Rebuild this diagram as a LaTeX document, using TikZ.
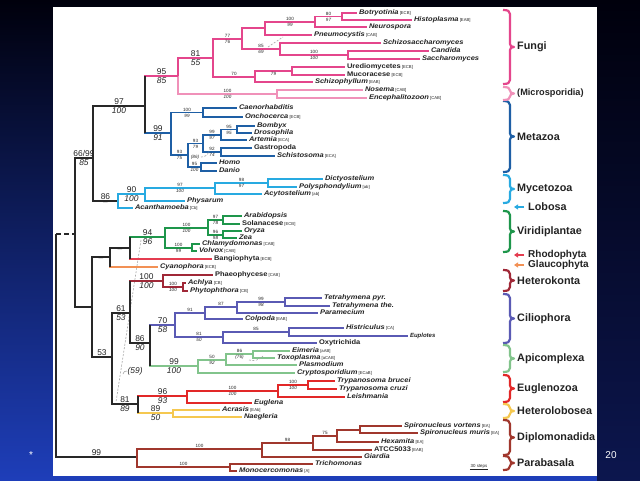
\documentclass[tikz,border=0pt]{standalone}
\usepackage{fontspec}
\setmainfont{Liberation Sans}
\newfontfamily\leaffont[FakeStretch=1.12]{Liberation Sans}
\usetikzlibrary{arrows.meta}
\definecolor{bgtop}{RGB}{0,0,12}
\definecolor{bgmid}{RGB}{8,22,90}
\definecolor{bgbot}{RGB}{30,62,185}
\definecolor{bgrt}{RGB}{12,22,78}
\definecolor{txt}{RGB}{35,35,35}
\definecolor{cBlk}{RGB}{40,40,40}
\definecolor{cFun}{RGB}{228,70,140}
\definecolor{cMic}{RGB}{240,145,185}
\definecolor{cMet}{RGB}{30,95,165}
\definecolor{cMyc}{RGB}{40,170,225}
\definecolor{cVir}{RGB}{30,150,75}
\definecolor{cRho}{RGB}{228,60,80}
\definecolor{cGla}{RGB}{242,145,85}
\definecolor{cHet}{RGB}{160,40,55}
\definecolor{cCil}{RGB}{90,90,180}
\definecolor{cApi}{RGB}{130,196,140}
\definecolor{cEug}{RGB}{226,40,40}
\definecolor{cHlb}{RGB}{245,200,80}
\definecolor{cDip}{RGB}{160,55,45}
\tikzset{
    br/.style={line width=1.4pt},
    leaf/.style={anchor=west, inner sep=1.8pt, text height=4.9pt, text depth=1.3pt, text=txt, font=\leaffont\fontsize{6.7}{7}\selectfont\bfseries\itshape},
    leafup/.style={leaf, font=\leaffont\fontsize{6.7}{7}\selectfont\bfseries},
    st/.style={pos=.75, above, inner sep=.7pt, text=txt, font=\fontsize{4.6}{5}\selectfont},
    sb/.style={st, below, font=\fontsize{4.6}{5}\selectfont\itshape},
    bt/.style={pos=.75, above, inner sep=.8pt, text=txt, font=\fontsize{8.4}{9}\selectfont},
    bb/.style={bt, below, font=\fontsize{8.4}{9}\selectfont\itshape},
    grp/.style={anchor=west, inner sep=0pt, text=txt, font=\fontsize{10.8}{11}\selectfont\bfseries},
    bkt/.style={line width=2.2pt, line join=round},
    arw/.style={line width=1.3pt, -{Triangle[length=4pt,width=5pt]}, shorten <=4pt},
    alt/.style={gray!70, line width=.6pt, dash pattern=on 2pt off 1.5pt}
}
\newcommand{\lbcode}[1]{{\normalfont\fontsize{4.2}{5}\selectfont\ [#1]}}

\begin{document}
\begin{tikzpicture}[x=1pt, y=-1pt]
    \useasboundingbox (0,0) rectangle (640,480);
    % slide
    \shade[top color=bgtop, middle color=bgmid, bottom color=bgbot] (0,0) rectangle (640,480);
    \shade[top color=bgtop, bottom color=bgrt] (597,0) rectangle (640,480);
    \fill[white] (53,7) rectangle (597,476);
    \node[text=white, font=\fontsize{10}{11}\selectfont] (star) at (31,455) {*};
    \node[text=white, font=\fontsize{10}{11}\selectfont] (pg) at (611,455) {20};

    % alternative grouping
    \coordinate (g59a) at (141,240); \coordinate (g59b) at (116,402);
    \draw[alt] (g59a) -- (g59b);
    \node[font=\fontsize{8.4}{9}\selectfont\itshape, text=txt, inner sep=.5pt, anchor=west] (l59) at (127,371) {(59)};
    \coordinate (h59) at (123,374);
    \draw[alt, solid] (h59) to[bend left=50] (l59.west);

    % backbone
    \coordinate (root) at (56,345);
    \coordinate (n75) at (75,234);
    \coordinate (n93) at (93,158);
    \coordinate (nB) at (145,106);
    \coordinate (n118) at (118,201);
    \coordinate (n92) at (92,307);
    \coordinate (n110) at (110,257);
    \coordinate (n130) at (130,248);
    \coordinate (n112) at (112,357);
    \coordinate (n130b) at (130,313);
    \coordinate (n150) at (150,343);
    \coordinate (n138) at (138,404);
    \coordinate (n137) at (137,457);

    \draw[br,cBlk] (root) -- (root |- n75);
    \draw[br,cBlk,dash pattern=on 5pt off 3pt] (root |- n75) -- (n75);
    \draw[br,cBlk] (root) |- node[bt]{99} (n137);
    \draw[br,cBlk] (n75) |- node[bt]{66/99} node[bb]{85} (n93);
    \draw[br,cBlk] (n75) |- (n92);
    \draw[br,cBlk] (n93) |- node[bt]{97} node[bb]{100} (nB);
    \draw[br,cBlk] (n93) |- node[bt]{86} node[bb]{--} (n118);
    \draw[br,cBlk] (n92) |- node[bb]{--} (n110);
    \draw[br,cBlk] (n92) |- node[bt]{53} (n112);
    \draw[br,cBlk] (n110) |- node[bb]{--} (n130);
    \draw[br,cBlk] (n112) |- node[bt]{61} node[bb]{53} (n130b);
    \draw[br,cBlk] (n112) |- node[bt]{81} node[bb]{89} (n138);
    \draw[br,cBlk] (n130b) |- node[bt]{86} node[bb]{90} (n150);

    % Fungi
    \coordinate (f178) at (178,76);
    \coordinate (f213) at (213,58);
    \coordinate (f242) at (242,39);
    \coordinate (f265) at (265,28);
    \coordinate (f315) at (315,22);
    \coordinate (f342) at (342,16.5);
    \coordinate (f280) at (280,49);
    \coordinate (f348) at (348,55);
    \coordinate (f255) at (255,77);
    \coordinate (f292) at (292,71);
    \coordinate (f277) at (277,94);
    \node[leaf] (botr) at (357,13) {Botryotinia\lbcode{ECB}};
    \node[leaf] (hist) at (412,20) {Histoplasma\lbcode{EAB}};
    \node[leaf] (neur) at (367,27) {Neurospora};
    \node[leaf] (pneu) at (312,35) {Pneumocystis\lbcode{CAB}};
    \node[leaf] (schs) at (381,43) {Schizosaccharomyces};
    \node[leaf] (cand) at (429,51) {Candida};
    \node[leaf] (sacc) at (420,59) {Saccharomyces};
    \node[leafup] (ured) at (345,67) {Urediomycetes\lbcode{ECB}};
    \node[leafup] (muco) at (345,75) {Mucoracese\lbcode{ECB}};
    \node[leaf] (schp) at (313,82) {Schizophyllum\lbcode{EAB}};
    \node[leaf] (nose) at (363,90) {Nosema\lbcode{CAB}};
    \node[leaf] (ence) at (367,98) {Encephalitozoon\lbcode{CAB}};

    \draw[br,cMic] (f178) |- node[st]{100} node[sb]{100} (f277);
    \draw[br,cMic] (f277) |- (nose);
    \draw[br,cMic] (f277) |- (ence);
    \draw[br,cFun] (nB) |- node[bt]{95} node[bb]{85} (f178);
    \draw[br,cFun] (f178) |- node[bt]{81} node[bb]{55} (f213);
    \draw[br,cFun] (f213) |- node[st]{77} node[sb]{76} (f242);
    \draw[br,cFun] (f213) |- node[st]{70} (f255);
    \draw[br,cFun] (f242) |- node[st]{85} node[sb]{69} (f280);
    \draw[br,cFun] (f265) |- node[st]{100} node[sb]{99} (f315);
    \draw[br,cFun] (f315) |- node[st]{80} node[sb]{97} (f342);
    \draw[br,cFun] (f280) |- node[st]{100} node[sb]{100} (f348);
    \draw[br,cFun] (f255) |- node[sb]{79} (f292);
    \foreach \a/\b in {f242/f265, f265/pneu, f315/neur, f342/botr, f342/hist, f280/schs,
                       f348/cand, f348/sacc, f255/schp, f292/ured, f292/muco}
        \draw[br,cFun] (\a) |- (\b);
    \coordinate (fa1) at (268,47); \coordinate (fa2) at (283,37);
    \draw[alt] (fa1) -- (fa2);

    % Metazoa
    \coordinate (m171) at (171,133);
    \coordinate (m203a) at (203,112.5);
    \coordinate (m188) at (188,155);
    \coordinate (m203) at (203,143.5);
    \coordinate (m221a) at (221,135);
    \coordinate (m237) at (237,129.5);
    \coordinate (m221b) at (221,152);
    \coordinate (m202) at (201,167);
    \node[leaf] (caen) at (237,108) {Caenorhabditis};
    \node[leaf] (onch) at (243,117) {Onchocerca\lbcode{ECB}};
    \node[leaf] (bomb) at (255,126) {Bombyx};
    \node[leaf] (dros) at (252,133) {Drosophila};
    \node[leaf] (arte) at (247,140) {Artemia\lbcode{ECA}};
    \node[leafup] (gast) at (252,148) {Gastropoda};
    \node[leaf] (schi) at (275,156) {Schistosoma\lbcode{ECA}};
    \node[leaf] (homo) at (217,163) {Homo};
    \node[leaf] (dani) at (217,171) {Danio};

    \draw[br,cMet] (nB) |- node[bt]{99} node[bb]{91} (m171);
    \draw[br,cMet] (m171) |- node[st]{100} node[sb]{99} (m203a);
    \draw[br,cMet] (m171) |- node[st]{93} node[sb]{75} (m188);
    \draw[br,cMet] (m188) |- node[st]{93} node[sb]{79} (m203);
    \draw[br,cMet] (m188) |- node[st]{95} node[sb]{100} (m202);
    \draw[br,cMet] (m203) |- node[st]{99} node[sb]{97} (m221a);
    \draw[br,cMet] (m203) |- node[st]{92} node[sb]{74} (m221b);
    \draw[br,cMet] (m221a) |- node[st]{95} node[sb]{95} (m237);
    \foreach \a/\b in {m203a/caen, m203a/onch, m221a/arte, m237/bomb, m237/dros,
                       m221b/gast, m221b/schi, m202/homo, m202/dani}
        \draw[br,cMet] (\a) |- (\b);
    \node[font=\fontsize{4.6}{5}\selectfont\itshape, text=txt, inner sep=.5pt] (l86) at (195,157) {(86)};
    \coordinate (ma1) at (201,157); \coordinate (ma2) at (209,151);
    \draw[alt] (ma1) to[bend right=40] (ma2);

    % Mycetozoa and Lobosa
    \coordinate (y145) at (145,194);
    \coordinate (y215) at (215,188);
    \coordinate (y268) at (268,183);
    \node[leaf] (dict) at (323,179) {Dictyostelium};
    \node[leaf] (poly) at (297,187) {Polysphondylium\lbcode{ab}};
    \node[leaf] (acyt) at (262,194) {Acytostelium\lbcode{ab}};
    \node[leaf] (phys) at (185,201) {Physarum};
    \node[leaf] (acan) at (133,208) {Acanthamoeba\lbcode{Cb}};

    \draw[br,cMyc] (n118) |- node[bt]{90} node[bb]{100} (y145);
    \draw[br,cMyc] (y145) |- node[st]{97} node[sb]{100} (y215);
    \draw[br,cMyc] (y215) |- node[st]{98} node[sb]{97} (y268);
    \foreach \a/\b in {n118/acan, y145/phys, y215/acyt, y268/dict, y268/poly}
        \draw[br,cMyc] (\a) |- (\b);

    % Viridiplantae, Rhodophyta, Glaucophyta
    \coordinate (v165) at (165,237);
    \coordinate (v208) at (208,228);
    \coordinate (v223a) at (223,220);
    \coordinate (v223b) at (223,235);
    \coordinate (v192) at (192,248);
    \node[leaf] (arab) at (242,216) {Arabidopsis};
    \node[leafup] (sola) at (240,224) {Solanacese\lbcode{ECB}};
    \node[leaf] (oryz) at (242,231) {Oryza};
    \node[leaf] (zea) at (237,238) {Zea};
    \node[leaf] (chla) at (200,244) {Chlamydomonas\lbcode{CAB}};
    \node[leaf] (volv) at (197,251) {Volvox\lbcode{CAB}};
    \node[leafup] (bang) at (212,259) {Bangiophyta\lbcode{ECB}};
    \node[leaf] (cyan) at (158,267) {Cyanophora\lbcode{ECB}};

    \draw[br,cVir] (n130) |- node[bt]{94} node[bb]{96} (v165);
    \draw[br,cVir] (v165) |- node[st]{100} node[sb]{100} (v208);
    \draw[br,cVir] (v165) |- node[st]{100} node[sb]{99} (v192);
    \draw[br,cVir] (v208) |- node[st]{97} node[sb]{78} (v223a);
    \draw[br,cVir] (v208) |- node[st]{96} node[sb]{98} (v223b);
    \foreach \a/\b in {v223a/arab, v223a/sola, v223b/oryz, v223b/zea, v192/chla, v192/volv}
        \draw[br,cVir] (\a) |- (\b);
    \draw[br,cRho] (n130) |- (bang);
    \draw[br,cGla] (n110) |- (cyan);

    % Heterokonta
    \coordinate (h163) at (163,281);
    \coordinate (h183) at (183,287);
    \node[leafup] (phae) at (213,275) {Phaeophycese\lbcode{CAB}};
    \node[leaf] (achl) at (186,283) {Achlya\lbcode{CB}};
    \node[leaf] (phyt) at (188,291) {Phytophthora\lbcode{CB}};

    \draw[br,cHet] (n130b) |- node[bt]{100} node[bb]{100} (h163);
    \draw[br,cHet] (h163) |- node[st]{100} node[sb]{100} (h183);
    \foreach \a/\b in {h163/phae, h183/achl, h183/phyt}
        \draw[br,cHet] (\a) |- (\b);

    % Ciliophora
    \coordinate (c175) at (175,325);
    \coordinate (c205) at (205,313);
    \coordinate (c237) at (237,307);
    \coordinate (c285) at (285,302);
    \coordinate (c223) at (223,337);
    \coordinate (c289) at (289,332);
    \node[leaf] (tpyr) at (322,298) {Tetrahymena pyr.};
    \node[leaf] (tthe) at (330,306) {Tetrahymena the.};
    \node[leaf] (para) at (318,313) {Paramecium};
    \node[leaf] (colp) at (243,319) {Colpoda\lbcode{EAB}};
    \node[leaf] (hstr) at (344,328) {Histriculus\lbcode{CA}};
    \node[leaf, font=\fontsize{6}{6}\selectfont\bfseries\itshape] (eupl) at (408,336) {Euplotes};
    \node[leafup] (oxyt) at (317,343) {Oxytrichida};

    \draw[br,cCil] (n150) |- node[bt]{70} node[bb]{58} (c175);
    \draw[br,cCil] (c175) |- node[st]{91} (c205);
    \draw[br,cCil] (c175) |- node[st]{81} node[sb]{50} (c223);
    \draw[br,cCil] (c205) |- node[st]{87} (c237);
    \draw[br,cCil] (c237) |- node[st]{99} node[sb]{98} (c285);
    \draw[br,cCil] (c223) |- node[st]{85} (c289);
    \foreach \a/\b in {c205/colp, c237/para, c285/tpyr, c285/tthe, c223/oxyt, c289/hstr, c289/eupl}
        \draw[br,cCil] (\a) |- (\b);

    % Apicomplexa
    \coordinate (a198) at (198,366);
    \coordinate (a226) at (226,360);
    \coordinate (a253) at (253,354);
    \node[leaf] (eime) at (290,351) {Eimeria\lbcode{aAB}};
    \node[leaf] (toxo) at (275,358) {Toxoplasma\lbcode{aCAB}};
    \node[leaf] (plas) at (297,365) {Plasmodium};
    \node[leaf] (cryp) at (295,373) {Cryptosporidium\lbcode{ECaB}};

    \draw[br,cApi] (n150) |- node[bt]{99} node[bb]{100} (a198);
    \draw[br,cApi] (a198) |- node[st]{50} node[sb]{92} (a226);
    \draw[br,cApi] (a226) |- node[st]{86} node[sb]{(76)} (a253);
    \foreach \a/\b in {a198/cryp, a226/plas, a253/eime, a253/toxo}
        \draw[br,cApi] (\a) |- (\b);
    \coordinate (aa1) at (249,360); \coordinate (aa2) at (263,356);
    \draw[alt] (aa1) to[bend right=30] (aa2);

    % Euglenozoa
    \coordinate (e187) at (187,396);
    \coordinate (e278) at (278,391);
    \coordinate (e308) at (308,385);
    \node[leaf] (tbru) at (335,381) {Trypanosoma brucei};
    \node[leaf] (tcru) at (337,389) {Trypanosoma cruzi};
    \node[leaf] (leis) at (345,397) {Leishmania};
    \node[leaf] (eugl) at (252,403) {Euglena};

    \draw[br,cEug] (n138) |- node[bt]{96} node[bb]{93} (e187);
    \draw[br,cEug] (e187) |- node[st]{100} node[sb]{100} (e278);
    \draw[br,cEug] (e278) |- node[st]{100} node[sb]{100} (e308);
    \foreach \a/\b in {e187/eugl, e278/leis, e308/tbru, e308/tcru}
        \draw[br,cEug] (\a) |- (\b);

    % Heterolobosea
    \coordinate (y173) at (173,413);
    \node[leaf] (acra) at (220,410) {Acrasis\lbcode{EAb}};
    \node[leaf] (naeg) at (242,417) {Naegleria};
    \draw[br,cHlb] (n138) |- node[bt]{89} node[bb]{50} (y173);
    \foreach \a/\b in {y173/acra, y173/naeg}
        \draw[br,cHlb] (\a) |- (\b);

    % Diplomonadida and Parabasala
    \coordinate (d262) at (262,449);
    \coordinate (d313) at (313,443);
    \coordinate (d337) at (337,436);
    \coordinate (d360) at (360,430);
    \coordinate (d230) at (230,467);
    \node[leaf] (svor) at (402,426) {Spironucleus vortens\lbcode{EA}};
    \node[leaf] (smur) at (418,433) {Spironucleus muris\lbcode{EA}};
    \node[leaf] (hexa) at (379,442) {Hexamita\lbcode{EA}};
    \node[leafup] (atcc) at (372,450) {ATCC5033\lbcode{EAB}};
    \node[leaf] (giar) at (362,457) {Giardia};
    \node[leaf] (tric) at (313,464) {Trichomonas};
    \node[leaf] (mono) at (237,471) {Monocercomonas\lbcode{A}};

    \draw[br,cDip] (n137) |- node[st]{100} (d262);
    \draw[br,cDip] (n137) |- node[st]{100} (d230);
    \draw[br,cDip] (d262) |- node[st]{98} (d313);
    \draw[br,cDip] (d313) |- node[st]{75} (d337);
    \foreach \a/\b in {d262/giar, d313/atcc, d337/d360, d337/hexa, d360/svor, d360/smur,
                       d230/tric, d230/mono}
        \draw[br,cDip] (\a) |- (\b);

    % black node bars
    \draw[br,cBlk] (nB |- f178) -- (nB |- m171);
    \draw[br,cBlk] (n130 |- v165) -- (n130 |- bang);
    \draw[br,cBlk] (n110 |- n130) -- (n110 |- cyan);
    \draw[br,cBlk] (n130b |- h163) -- (n130b |- n150);
    \draw[br,cBlk] (n150 |- c175) -- (n150 |- a198);
    \draw[br,cBlk] (n138 |- e187) -- (n138 |- y173);

    % scale
    \node[font=\fontsize{4.4}{5}\selectfont, text=txt, inner sep=.6pt] (scl) at (479,466) {30 steps};
    \draw[line width=.4pt, txt] (scl.south west) -- (scl.south east);

    % groups
    \foreach \ya/\yb/\col/\lab [count=\i] in {10/84/cFun/Fungi, 101/172/cMet/Metazoa,
            175/203/cMyc/Mycetozoa, 211/252/cVir/Viridiplantae, 270/291/cHet/Heterokonta,
            294/343/cCil/Ciliophora, 345/372/cApi/Apicomplexa, 375/402/cEug/Euglenozoa,
            404/418/cHlb/Heterolobosea, 420/455/cDip/Diplomonadida, 456/470/cDip/Parabasala} {
        \pgfmathsetmacro{\ym}{(\ya+\yb)/2}
        \draw[bkt,\col] (503,\ya) .. controls (508,\ya) and (510,{\ya+1}) .. (510,{\ya+4})
            -- (510,{\ym-3}) .. controls (510,{\ym-1}) and (511.5,\ym) .. (514,\ym)
            .. controls (511.5,\ym) and (510,{\ym+1}) .. (510,{\ym+3})
            -- (510,{\yb-4}) .. controls (510,{\yb-1}) and (508,\yb) .. (503,\yb);
        \node[grp] (g\i) at (517,\ym) {\lab};
    }
    \draw[bkt,cMic] (503,87) .. controls (508,87) and (510,88) .. (510,90.5)
        .. controls (510,92.5) and (511.5,93.5) .. (514,93.5)
        .. controls (511.5,93.5) and (510,94.5) .. (510,96.5)
        .. controls (510,99) and (508,100) .. (503,100);
    \node[grp, font=\fontsize{9.2}{10}\selectfont\bfseries] (gmic) at (517,93.5) {(Microsporidia)};

    \node[grp] (lob) at (528,207) {Lobosa};
    \node[grp, font=\fontsize{10}{11}\selectfont\bfseries] (rho) at (528,255) {Rhodophyta};
    \node[grp, font=\fontsize{10}{11}\selectfont\bfseries] (gla) at (528,265) {Glaucophyta};
    \coordinate (lobtip) at (514,207);
    \coordinate (rhotip) at (514,255);
    \coordinate (glatip) at (514,265);
    \draw[arw,cMyc] (lob.west) -- (lobtip);
    \draw[arw,cRho] (rho.west) -- (rhotip);
    \draw[arw,cGla] (gla.west) -- (glatip);
\end{tikzpicture}
\end{document}
